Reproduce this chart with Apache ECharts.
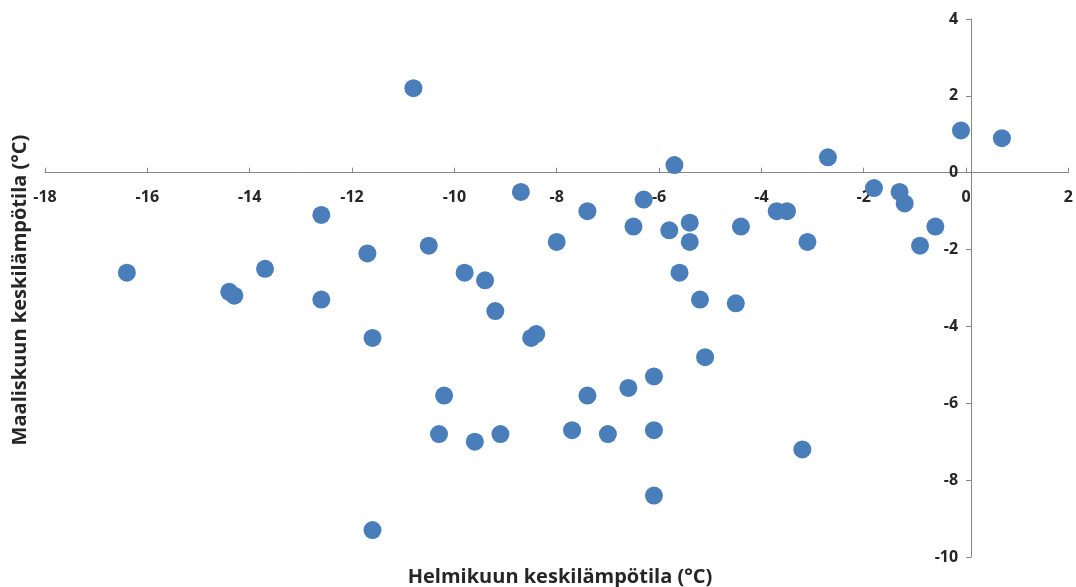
<!DOCTYPE html>
<html>
<head>
<meta charset="utf-8">
<script src="https://cdn.jsdelivr.net/npm/echarts@6/dist/echarts.min.js"></script>
<style>
html,body{margin:0;padding:0;background:#fff;}
#c{width:1076px;height:587px;}
</style>
</head>
<body>
<div id="c"></div>
<script>
const februaryTemps = [-16.4,-14.4,-14.3,-13.7,-12.6,-12.6,-11.7,-11.6,-11.6,-10.8,-10.5,-10.2,-10.3,-9.8,-9.6,-9.4,-9.2,-9.1,-8.7,-8.5,-8.4,-8.0,-7.7,-7.4,-7.4,-7.0,-6.6,-6.5,-6.3,-6.1,-6.1,-6.1,-5.8,-5.7,-5.6,-5.4,-5.4,-5.2,-5.1,-4.5,-4.4,-3.7,-3.5,-3.1,-3.2,-2.7,-1.8,-1.3,-1.2,-0.9,-0.6,-0.1,0.7];
const marchTemps    = [-2.6,-3.1,-3.2,-2.5,-1.1,-3.3,-2.1,-4.3,-9.3,2.2,-1.9,-5.8,-6.8,-2.6,-7.0,-2.8,-3.6,-6.8,-0.5,-4.3,-4.2,-1.8,-6.7,-1.0,-5.8,-6.8,-5.6,-1.4,-0.7,-5.3,-6.7,-8.4,-1.5,0.2,-2.6,-1.3,-1.8,-3.3,-4.8,-3.4,-1.4,-1.0,-1.0,-1.8,-7.2,0.4,-0.4,-0.5,-0.8,-1.9,-1.4,1.1,0.9];
const xTitle = 'Helmikuun keskilämpötila (°C)';
const yTitle = 'Maaliskuun keskilämpötila (°C)';

const points = februaryTemps.map((x, i) => [x, marchTemps[i]]);
const FONT = '"Open Sans", sans-serif';
const W = 1076, H = 587;
const G = {left: 45, right: 2, top: 19, bottom: 30};
const xMin = -18, xMax = 2, yMin = -10, yMax = 4;
const gw = W - G.left - G.right, gh = H - G.top - G.bottom;
// axes cross at zero: shift them inward from the grid edges
const xOffset = -(gh * (0 - yMin) / (yMax - yMin));
const yOffset = -(gw * (0 - xMin) / (xMax - xMin));

const chart = echarts.init(document.getElementById('c'), null, {renderer: 'canvas'});
chart.setOption({
  animation: false,
  backgroundColor: '#fff',
  grid: Object.assign({containLabel: false}, G),
  xAxis: {
    type: 'value', min: xMin, max: xMax, interval: 2, position: 'bottom', offset: xOffset,
    axisLine: {onZero: false, lineStyle: {color: '#868686', width: 1}},
    axisTick: {show: true, inside: true, length: 5, lineStyle: {color: '#868686'}},
    axisLabel: {margin: 17, color: '#262626', fontFamily: FONT, fontWeight: 'bold', fontSize: 16, showMaxLabel: true, showMinLabel: true},
    splitLine: {show: false}
  },
  yAxis: {
    type: 'value', min: yMin, max: yMax, interval: 2, position: 'left', offset: yOffset,
    axisLine: {show: true, onZero: false, lineStyle: {color: '#868686', width: 1}},
    axisTick: {show: true, inside: false, length: 5, lineStyle: {color: '#868686'}},
    axisLabel: {margin: 13, color: '#262626', fontFamily: FONT, fontWeight: 'bold', fontSize: 16},
    splitLine: {show: false}
  },
  graphic: [
    {type: 'text', x: 560, y: 577,
     style: {text: xTitle, font: 'bold 20px ' + FONT, fill: '#262626', textAlign: 'center', textVerticalAlign: 'middle'}},
    {type: 'text', rotation: Math.PI / 2, x: 20, y: 290,
     style: {text: yTitle, font: 'bold 20px ' + FONT, fill: '#262626', textAlign: 'center', textVerticalAlign: 'middle'}}
  ],
  series: [{
    type: 'scatter', data: points, symbol: 'circle', symbolSize: 18,
    itemStyle: {color: '#4a7ebb', opacity: 1}
  }]
});
</script>
</body>
</html>
